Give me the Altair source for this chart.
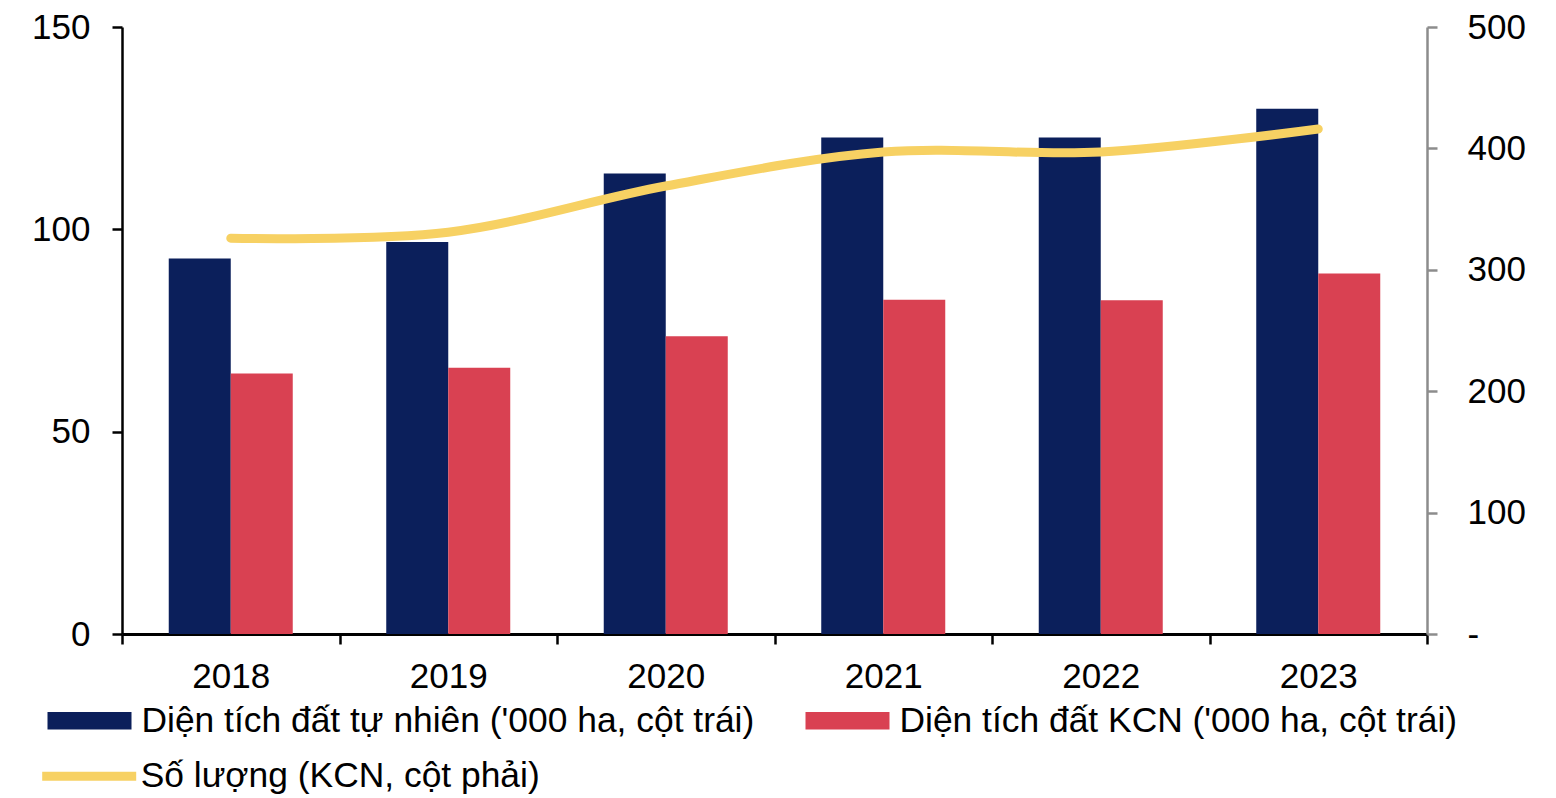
import altair as alt
import pandas as pd

years = ["2018", "2019", "2020", "2021", "2022", "2023"]
series_names = [
    "Diện tích đất tự nhiên ('000 ha, cột trái)",
    "Diện tích đất KCN ('000 ha, cột trái)",
]
natural_land = [92.8, 96.9, 113.8, 122.7, 122.7, 129.8]
kcn_land = [64.4, 65.8, 73.6, 82.6, 82.5, 89.1]
line_name = "Số lượng (KCN, cột phải)"
kcn_count = [326, 331, 369, 397, 397, 416]
left_ticks = [0, 50, 100, 150]
right_ticks = [0, 100, 200, 300, 400, 500]
bar_colors = ["#0B1F5B", "#D94152"]
line_color = "#F7D163"

FONT = "Liberation Sans"
FS = 35
LFS = 35.4

rows = []
for i, y in enumerate(years):
    rows.append({"year": y, "series": series_names[0], "value": natural_land[i]})
    rows.append({"year": y, "series": series_names[1], "value": kcn_land[i]})
bar_df = pd.DataFrame(rows)
line_df = pd.DataFrame({"year": years, "series": [line_name] * len(years), "count": kcn_count})

x_enc = alt.X(
    "year:N",
    sort=years,
    scale=alt.Scale(paddingInner=0, paddingOuter=0),
    axis=alt.Axis(
        title=None, labelAngle=0, tickBand="extent", domainColor="black", domainWidth=3,
        tickColor="black", tickWidth=2.5, tickSize=10, labelPadding=15,
        labelFont=FONT, labelFontSize=FS, labelColor="black", grid=False,
    ),
)

bars = alt.Chart(bar_df).mark_bar().encode(
    x=x_enc,
    xOffset=alt.XOffset("series:N", sort=series_names,
                        scale=alt.Scale(paddingInner=0, paddingOuter=0.754)),
    y=alt.Y(
        "value:Q",
        scale=alt.Scale(domain=[0, 150], nice=False),
        axis=alt.Axis(
            orient="left", title=None, values=left_ticks, domainColor="black", domainWidth=2.5,
            tickColor="black", tickWidth=2.5, tickSize=10, labelPadding=22,
            labelFont=FONT, labelFontSize=FS, labelColor="black", grid=False,
        ),
    ),
    color=alt.Color(
        "series:N",
        sort=series_names,
        scale=alt.Scale(domain=series_names, range=bar_colors),
        legend=alt.Legend(
            title=None, orient="none", legendX=-74.5, legendY=651.5, direction="horizontal",
            columns=2, symbolType="M-1,-0.21L1,-0.21L1,0.21L-1,0.21Z", symbolSize=7056,
            symbolStrokeWidth=0, symbolOpacity=1, labelFont=FONT, labelFontSize=LFS,
            labelColor="black", labelLimit=1200, labelOffset=10, columnPadding=51, padding=0,
        ),
    ),
)

line = alt.Chart(line_df).mark_line(strokeWidth=9, strokeCap="round", interpolate="cardinal").encode(
    x=alt.X("year:N", sort=years),
    y=alt.Y(
        "count:Q",
        scale=alt.Scale(domain=[0, 500], nice=False),
        axis=alt.Axis(
            orient="right", title=None, values=right_ticks, domainColor="#8C8C8C", domainWidth=2.5,
            tickColor="#8C8C8C", tickWidth=2.5, tickSize=10, labelPadding=30,
            labelExpr="datum.value == 0 ? '-' : datum.label",
            labelFont=FONT, labelFontSize=FS, labelColor="black", grid=False,
        ),
    ),
    color=alt.Color(
        "series:N",
        scale=alt.Scale(domain=[line_name], range=[line_color]),
        legend=alt.Legend(
            title=None, orient="none", legendX=-84.3, legendY=697.7,
            symbolType="stroke", symbolSize=8836, symbolStrokeWidth=9, symbolOpacity=1,
            labelFont=FONT, labelFontSize=LFS, labelColor="black", labelLimit=1200,
            labelOffset=0, padding=0,
        ),
    ),
)

chart = (
    alt.layer(bars, line)
    .resolve_scale(y="independent", color="independent")
    .properties(
        width=1305,
        height=607,
        padding={"left": 114, "top": 19, "right": 100, "bottom": 164},
        autosize=alt.AutoSizeParams(type="none"),
    )
    .configure_view(stroke=None)
)

chart.save("out.html", embed_options={"renderer": "svg", "actions": False})
